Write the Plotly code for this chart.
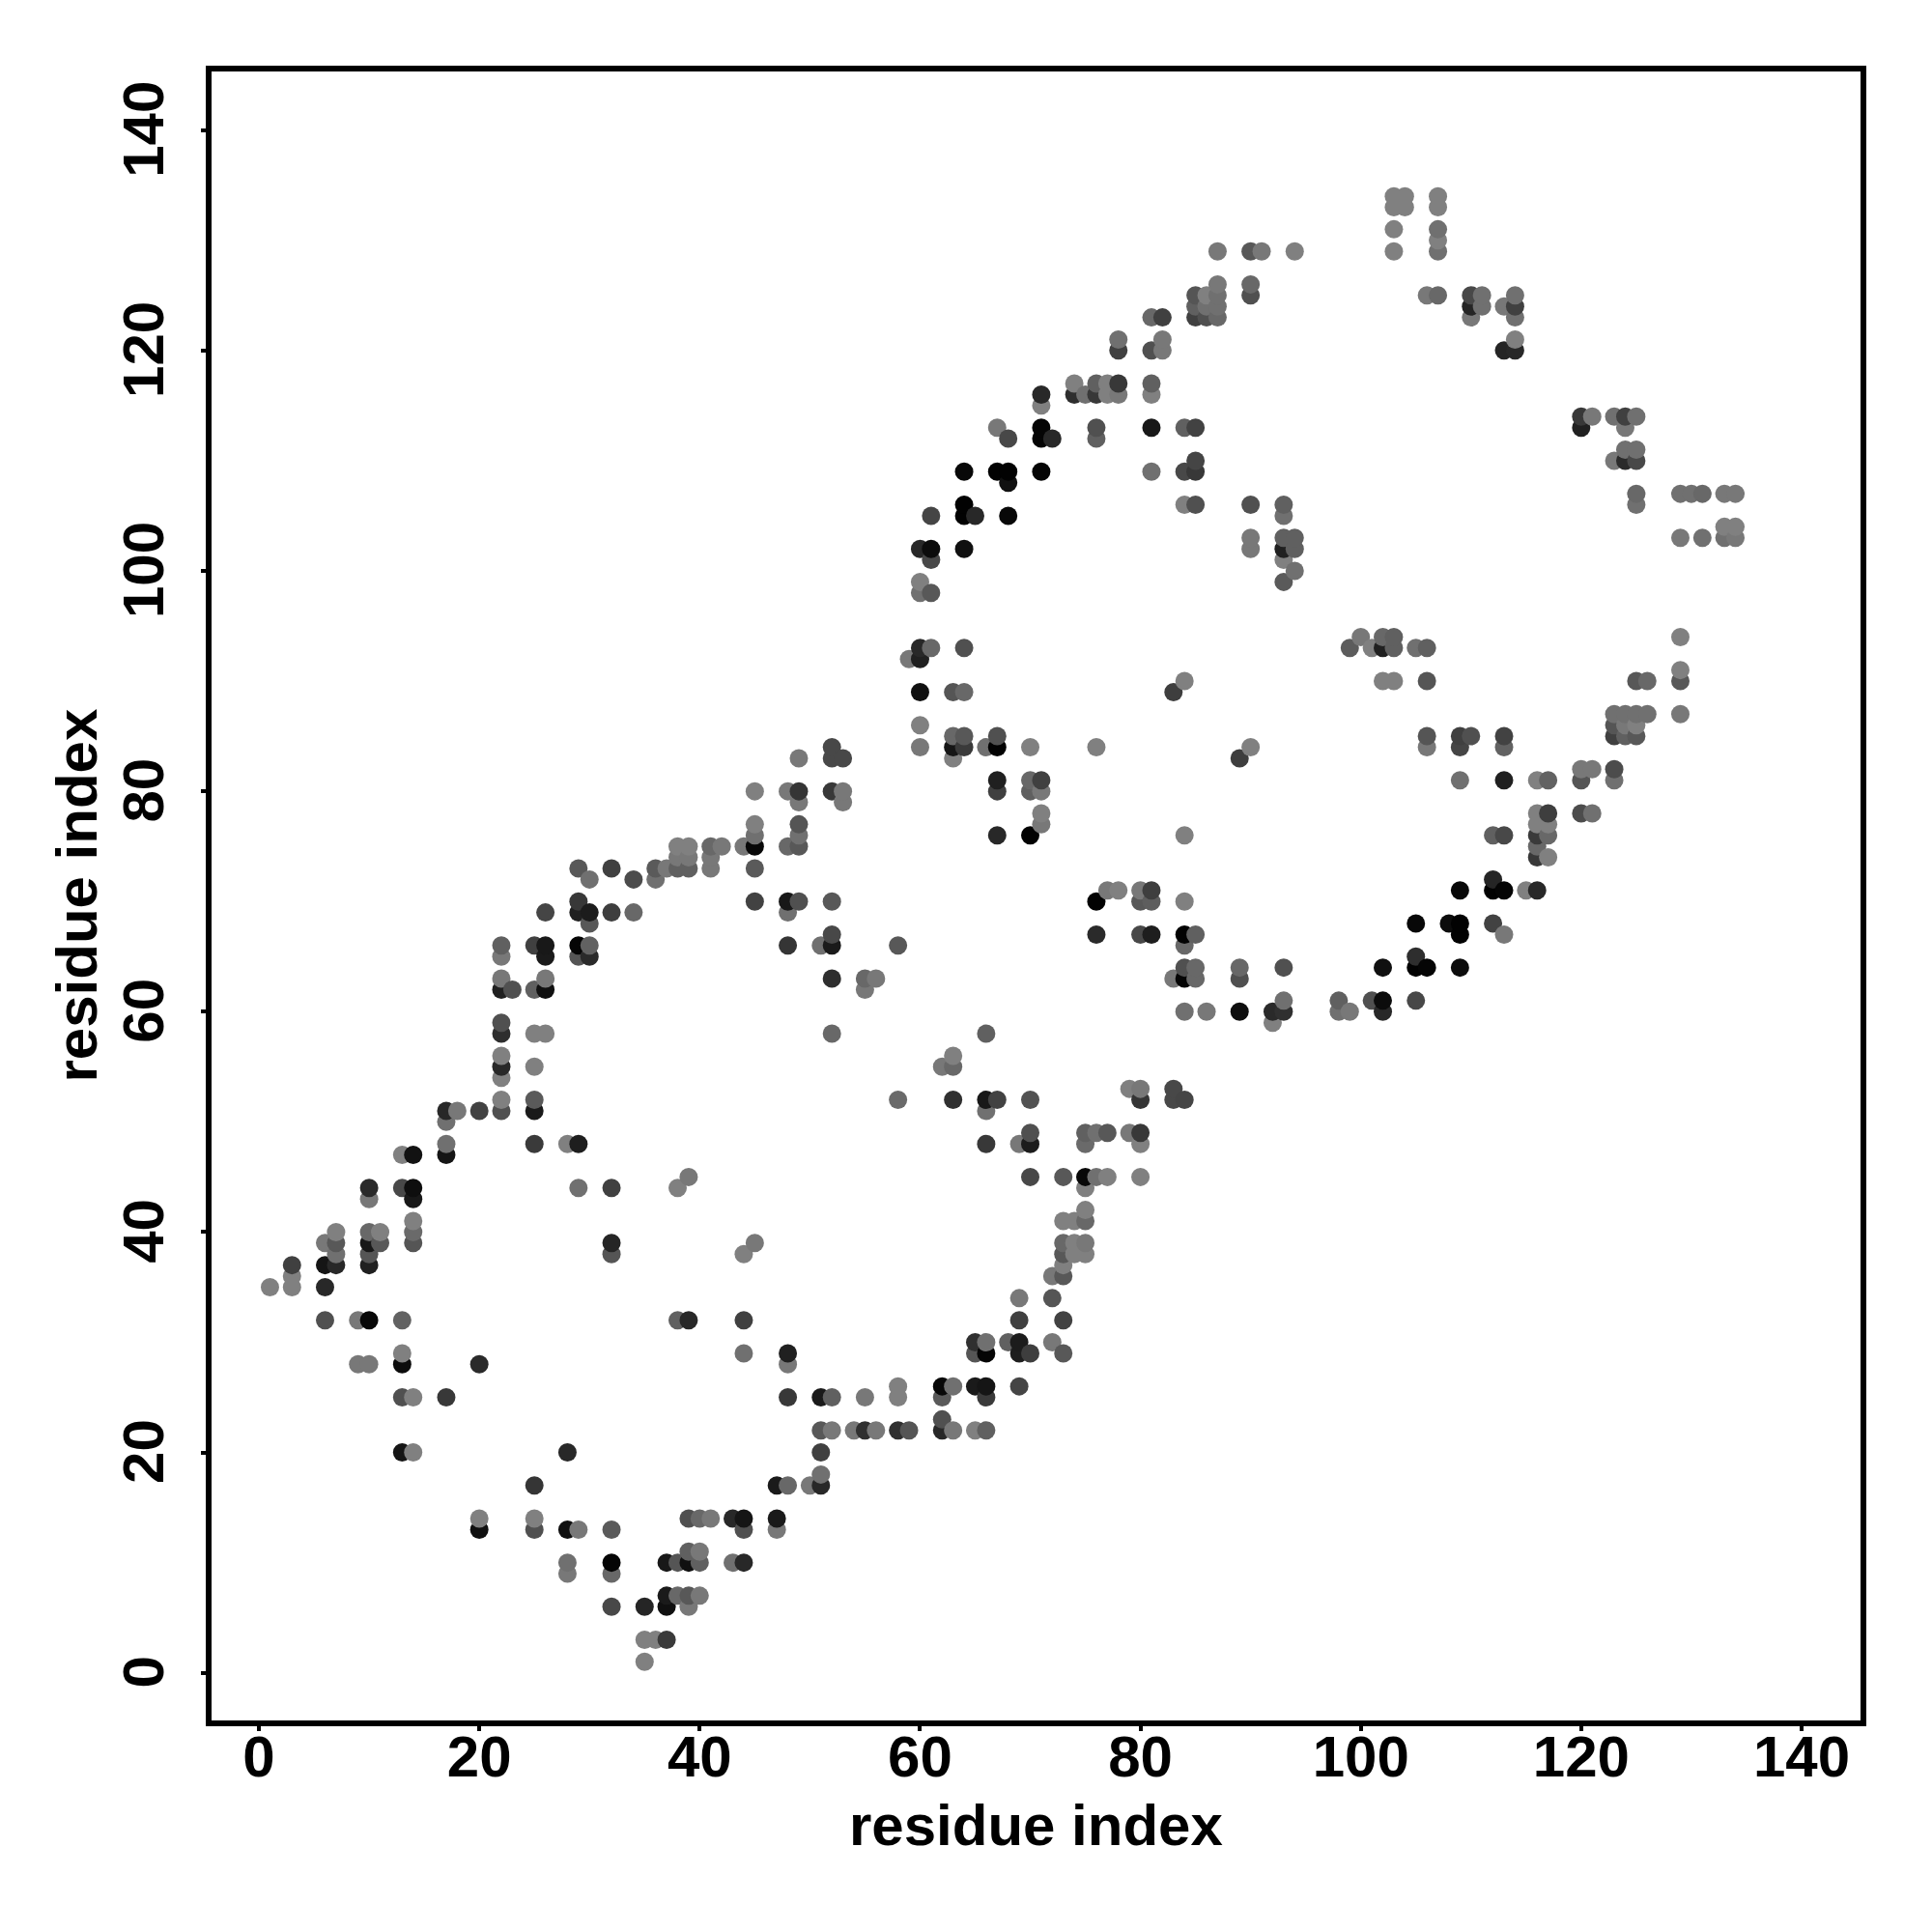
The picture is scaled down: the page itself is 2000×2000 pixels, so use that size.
import numpy as np
import plotly.graph_objects as go

contact_x = [
 1,3,3,3,6,6,6,7,7,7,7,
 10,10,10,10,11,11,10,10,13,14,14,13,14,14,14,14,
 17,17,17,17,18,20,22,22,22,22,25,25,25,25,28,29,29,
 32,32,32,38,39,6,9,10,13,38,39,9,10,13,13,20,
 13,14,17,13,14,28,25,20,20,25,25,28,29,32,28,28,
 32,32,32,35,37,38,39,39,40,40,37,38,39,40,37,39,
 35,36,37,35,39,40,41,
 52,66,62,63,63,58,63,66,67,66,70,66,69,70,70,
 75,76,77,75,79,80,80,80,79,80,83,83,84,70,73,75,76,77,80,75,
 75,73,74,75,73,74,75,73,74,75,73,73,72,69,72,69,73,
 65,66,68,69,72,65,66,69,70,73,69,62,63,65,66,66,62,
 58,58,55,48,51,52,44,48,48,44,44,45,
 51,52,54,55,56,58,59,62,63,65,66,62,51,51,51,50,47,48,
 47,47,43,44,44,43,44,
 22,22,22,25,26,22,22,23,25,26,26,22,22,25,26,26,
 29,30,29,30,26,29,29,30,30,32,34,
 29,30,32,34,36,36,37,38,39,38,39,38,39,
 41,41,41,42,44,45,45,45,45,45,45,48,49,48,52,
 48,51,52,52,58,52,55,56,55,
 48,49,49,49,48,49,49,52,53,53,49,52,53,52,
 74,76,77,78,81,74,75,76,77,78,81,71,71,
 67,68,71,71,72,76,76,81,84,85,
 64,67,68,68,71,81,84,85,85,
 64,64,65,68,61,84,85,90,93,93,
 60,61,61,64,90,90,93,94,93,94,93,94,93,
 60,60,61,60,61,64,59,60,60,63,64,60,60,
 63,64,63,64,63,66,67,67,70,76,
 67,67,70,71,70,71,71,71,67,70,84,84,83,
 87,90,91,94,103,103,103,103,104,104,107,107,107,107,107,
 106,107,110,111,110,111,110,113,114,114,114,114,113,114,
 87,87,87,87,85,86,85,86,85,86,90,90,
 81,82,78,78,81,82,82,
 120,120,121,123,124,125,124,124,125,123,124,125,125,125,
 129,130,131,133,134,129,131,133,134,133,134,129,
 99,100,101,102,103,102,103,105,106,
 102,103,106,125,126,129,129,129,123,124,125,126,
 123,124,125,123,124,125,90,89,106,106,109,110,109,113,113,
 109,113,116,117,120,120,121,123,123,116,117,120,121,
 116,117,116,117,116,116,117,112,113,112,112,113,115,116,109,
 105,108,109,109,112,113,102,105,105,106,109,
 105,102,101,102,98,98,99,93,93,92,92,89,86,84,
 93,89,89,84,85,84,85,83,84,84,85,84,
 76,76,77,78,80,81,80,81,80,81,
]

contact_y = [
 35,35,36,37,35,37,39,37,38,39,40,
 37,38,39,40,39,40,43,44,44,44,43,47,47,41,40,39,
 47,48,50,51,51,51,51,52,54,55,55,51,52,48,48,48,44,
 44,39,38,44,45,32,32,32,32,32,32,28,28,28,29,28,
 25,25,25,20,20,20,17,13,14,13,14,13,13,13,10,9,
 10,9,6,6,10,10,10,11,11,10,7,7,7,7,6,6,
 3,3,3,1,14,14,14,
 58,58,55,55,56,52,52,52,52,51,52,48,48,48,49,
 49,49,49,48,49,49,48,52,53,53,53,52,52,45,45,45,45,45,45,44,
 42,41,41,41,39,39,39,38,38,38,37,36,36,34,34,32,32,
 30,30,30,30,30,29,29,29,29,29,26,26,26,26,26,25,25,
 26,25,25,25,25,25,29,29,28,32,38,39,
 22,22,22,22,22,22,22,22,22,22,22,23,20,18,17,17,17,17,
 14,13,14,14,13,10,10,
 56,58,59,58,58,62,63,62,62,62,63,66,65,66,66,65,
 66,66,65,65,69,70,69,69,68,69,69,
 73,72,73,72,72,73,73,73,73,74,74,75,75,
 73,74,75,75,75,75,76,77,73,80,70,70,70,69,70,
 66,66,66,67,66,63,63,63,62,
 75,75,76,77,80,80,79,80,80,79,83,83,83,84,
 117,117,117,117,117,116,116,116,116,116,116,116,115,
 113,112,113,112,112,113,112,113,113,113,
 109,109,109,108,109,109,109,109,110,
 106,105,105,105,105,106,106,106,106,105,
 102,102,101,102,103,102,103,103,102,102,101,100,99,
 99,98,98,93,93,93,92,92,89,89,89,86,84,
 85,85,84,84,83,84,84,85,84,84,
 81,80,81,81,80,80,78,77,76,76,76,90,89,
 129,129,129,129,129,131,133,134,134,133,134,133,131,130,129,
 125,125,125,125,124,124,123,124,125,124,123,121,120,120,
 126,125,124,123,125,125,124,124,123,123,126,125,
 123,123,121,120,120,121,120,
 114,113,114,114,114,114,113,111,111,110,110,110,107,106,
 107,107,107,107,107,103,103,103,103,104,104,94,
 93,94,93,94,94,93,93,93,93,
 90,90,90,90,90,91,90,87,87,87,87,87,
 86,86,86,85,85,85,84,83,85,84,85,85,84,85,84,
 81,81,81,81,81,82,82,82,81,78,78,78,78,
 77,77,76,76,75,74,74,76,76,72,71,71,71,71,71,
 68,68,68,67,68,67,64,65,64,64,64,
 61,61,61,60,61,60,60,61,60,60,59,60,60,60,
 64,64,63,64,64,63,63,63,66,67,67,70,
 70,67,71,71,71,71,70,70,67,67,
]

contact_gray = [
 0x80,0x80,0x80,0x40,0x28,0x15,0x78,0x28,0x70,0x58,0x80,
 0x20,0x55,0x18,0x68,0x58,0x80,0x78,0x2a,0x48,0x0e,0x18,0x80,0x12,0x80,0x6a,0x55,
 0x15,0x70,0x70,0x28,0x78,0x42,0x50,0x80,0x80,0x28,0x80,0x1a,0x5a,0x3a,0x80,0x1e,0x70,
 0x40,0x25,0x55,0x80,0x78,0x50,0x78,0x08,0x62,0x60,0x28,0x78,0x78,0x0c,0x80,0x2a,
 0x50,0x80,0x38,0x15,0x80,0x28,0x35,0x10,0x80,0x50,0x80,0x10,0x78,0x5a,0x70,0x78,
 0x05,0x68,0x48,0x25,0x18,0x55,0x10,0x60,0x78,0x60,0x1a,0x68,0x58,0x78,0x10,0x78,
 0x80,0x80,0x3a,0x80,0x50,0x68,0x78,
 0x68,0x60,0x78,0x68,0x80,0x6a,0x30,0x18,0x42,0x70,0x52,0x38,0x78,0x1c,0x50,
 0x60,0x70,0x58,0x6a,0x78,0x38,0x80,0x35,0x80,0x78,0x48,0x48,0x45,0x48,0x58,0x08,0x70,0x80,0x80,0x80,
 0x80,0x80,0x80,0x68,0x68,0x80,0x78,0x58,0x80,0x80,0x80,0x58,0x78,0x78,0x55,0x40,0x42,
 0x30,0x70,0x60,0x1c,0x78,0x55,0x05,0x1e,0x3e,0x58,0x45,0x08,0x70,0x1a,0x15,0x3a,0x5a,
 0x80,0x80,0x78,0x38,0x1a,0x60,0x70,0x20,0x78,0x40,0x80,0x78,
 0x58,0x78,0x78,0x30,0x78,0x30,0x55,0x28,0x78,0x80,0x60,0x50,0x40,0x70,0x28,0x78,0x1a,0x68,
 0x1a,0x78,0x28,0x15,0x50,0x70,0x28,
 0x80,0x2e,0x50,0x80,0x80,0x20,0x78,0x50,0x60,0x10,0x78,0x60,0x78,0x40,0x18,0x1a,
 0x05,0x62,0x55,0x2a,0x45,0x38,0x20,0x1c,0x58,0x3e,0x68,
 0x58,0x70,0x40,0x4c,0x70,0x5a,0x78,0x60,0x60,0x78,0x78,0x80,0x80,
 0x78,0x78,0x68,0x78,0x78,0x08,0x70,0x80,0x5a,0x80,0x42,0x18,0x50,0x70,0x58,
 0x35,0x70,0x1a,0x48,0x58,0x2e,0x68,0x78,0x78,
 0x68,0x58,0x70,0x55,0x78,0x35,0x78,0x38,0x78,0x78,0x78,0x48,0x48,0x48,
 0x80,0x60,0x80,0x38,0x60,0x2e,0x70,0x38,0x80,0x78,0x80,0x28,0x80,
 0x78,0x48,0x05,0x05,0x28,0x50,0x60,0x18,0x60,0x42,
 0x08,0x02,0x02,0x10,0x05,0x70,0x48,0x38,0x45,
 0x02,0x02,0x28,0x08,0x45,0x80,0x50,0x50,0x60,0x70,
 0x28,0x0c,0x48,0x10,0x78,0x78,0x60,0x60,0x20,0x60,0x80,0x70,0x5a,
 0x80,0x70,0x58,0x28,0x68,0x50,0x78,0x20,0x10,0x55,0x68,0x80,0x78,
 0x68,0x58,0x15,0x3a,0x80,0x70,0x02,0x50,0x80,0x80,
 0x20,0x40,0x68,0x40,0x60,0x78,0x80,0x78,0x28,0x02,0x80,0x80,0x3e,
 0x78,0x58,0x78,0x80,0x80,0x80,0x80,0x80,0x80,0x80,0x80,0x80,0x70,0x80,0x70,
 0x78,0x68,0x48,0x70,0x25,0x70,0x78,0x78,0x70,0x40,0x70,0x80,0x25,0x28,
 0x78,0x70,0x70,0x68,0x55,0x80,0x60,0x70,0x40,0x50,0x68,0x50,
 0x68,0x40,0x70,0x40,0x50,0x78,0x78,
 0x38,0x20,0x78,0x70,0x40,0x70,0x78,0x70,0x70,0x78,0x2a,0x48,0x68,0x70,
 0x70,0x70,0x68,0x78,0x78,0x78,0x70,0x70,0x78,0x80,0x80,0x80,
 0x5c,0x78,0x80,0x68,0x60,0x20,0x60,0x70,0x60,
 0x80,0x80,0x55,0x58,0x68,0x80,0x58,0x78,0x70,0x70,0x70,0x70,
 0x55,0x78,0x80,0x40,0x60,0x58,0x80,0x3e,0x55,0x78,0x40,0x50,0x45,0x42,0x62,
 0x70,0x20,0x80,0x62,0x55,0x78,0x78,0x4c,0x70,0x80,0x3e,0x4c,0x70,
 0x80,0x80,0x3a,0x68,0x68,0x38,0x80,0x60,0x48,0x25,0x02,0x05,0x80,0x28,0x08,
 0x08,0x0c,0x02,0x02,0x42,0x78,0x10,0x2e,0x02,0x05,0x0c,
 0x48,0x0c,0x50,0x28,0x60,0x70,0x78,0x70,0x30,0x2a,0x80,0x0e,0x78,0x70,
 0x50,0x68,0x50,0x50,0x68,0x05,0x68,0x78,0x68,0x02,0x60,0x80,
 0x02,0x2a,0x78,0x80,0x78,0x3e,0x58,0x5e,0x48,0x1e,
]

tick_values = [0, 20, 40, 60, 80, 100, 120, 140]
x_title = "residue index"
y_title = "residue index"

assert len(contact_x) == len(contact_y) == len(contact_gray), (len(contact_x), len(contact_y), len(contact_gray))

# later residues are painted over earlier ones
order = np.lexsort((contact_y, contact_x))
xs = np.array(contact_x)[order]
ys = np.array(contact_y)[order]
gs = np.array(contact_gray)[order]
colors = [f"rgb({g},{g},{g})" for g in gs]

FONT = "Liberation Sans"
W, H = 2000, 2000
PAGE_OFF = 8  # default body margin of the page
L, R, T, B = 219, 1925.7, 74.3, 1781

fig = go.Figure(go.Scatter(
    x=xs, y=ys, mode="markers",
    marker=dict(size=19, color=colors, line=dict(width=0)),
    cliponaxis=False, showlegend=False, hoverinfo="skip",
))

axis_common = dict(
    tickmode="array", tickvals=tick_values, ticktext=[str(t) for t in tick_values],
    showgrid=False, zeroline=False,
    showline=True, linecolor="black", linewidth=6, mirror=True,
    ticks="outside", ticklen=5, tickwidth=4, tickcolor="black",
    tickfont=dict(family=FONT, size=60, color="black", weight="bold"),
    automargin=False,
)
fig.update_layout(
    width=W, height=H,
    paper_bgcolor="white", plot_bgcolor="white",
    margin=dict(l=L - PAGE_OFF, r=W - R + PAGE_OFF, t=T - PAGE_OFF, b=H - B + PAGE_OFF, pad=0, autoexpand=False),
    xaxis=dict(range=[-4.30, 145.35], tickangle=0, ticklabelstandoff=-25, **axis_common),
    yaxis=dict(range=[-4.32, 145.32], tickangle=-90, ticklabelstandoff=15, ticklabelshift=8, **axis_common),
    annotations=[
        dict(text=f"<b>{x_title}</b>", xref="paper", yref="paper", x=0.5, y=0,
             xanchor="center", yanchor="middle", yshift=-(1889 - B), showarrow=False,
             font=dict(family=FONT, size=60, color="black")),
        dict(text=f"<b>{y_title}</b>", xref="paper", yref="paper", x=0, y=0.5,
             xanchor="center", yanchor="middle", xshift=-(L - 79), textangle=-90, showarrow=False,
             font=dict(family=FONT, size=60, color="black")),
    ],
)
fig.write_html("out.html")
